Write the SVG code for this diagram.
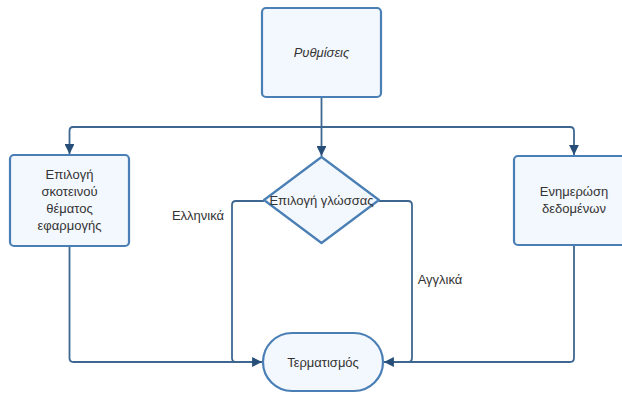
<svg xmlns="http://www.w3.org/2000/svg" width="622" height="393" viewBox="0 0 622 393">
<style>
.node{fill:#f3f8fe;stroke:#4a7fb5;stroke-width:2.2}
.t{font-family:"Liberation Sans",Arial,sans-serif;font-size:13px;fill:#333;text-anchor:middle}
.c{fill:none;stroke:#3d6790;stroke-width:1.8;stroke-linejoin:round}
</style>
<defs>
<marker id="a" viewBox="0 0 10 10" refX="10" refY="5" markerWidth="5.5" markerHeight="5.5" markerUnits="strokeWidth" orient="auto">
<path d="M0,0 L10,5 L0,10 Z" fill="#264e78"/>
</marker>
</defs>
<rect width="622" height="393" fill="#fff"/>
<g id="connectors">
<path class="c" d="M321.5,97 V127"/>
<path class="c" d="M321.5,127 H73 Q69.5,127 69.5,131 V154" marker-end="url(#a)"/>
<path class="c" d="M321.5,127 H570 Q574,127 574,131 V155" marker-end="url(#a)"/>
<path class="c" d="M321.5,127 V156" marker-end="url(#a)"/>
<path class="c" d="M69.5,246 V358 Q69.5,362 73.5,362 H262" marker-end="url(#a)"/>
<path class="c" d="M264,201 H236 Q232,201 232,205 V358 Q232,362 236,362"/>
<path class="c" d="M379,201 H408 Q412,201 412,205 V358 Q412,362 408,362"/>
<path class="c" d="M574,245 V358 Q574,362 570,362 H384" marker-end="url(#a)"/>
</g>
<g id="settings">
<rect class="node" x="262" y="8" width="119" height="89" rx="4"/>
<text class="t" x="321.5" y="57" font-style="italic">Ρυθμίσεις</text>
</g>
<g id="dark-theme">
<rect class="node" x="10" y="155" width="119" height="91" rx="4"/>
<text class="t" x="69.5" y="179">Επιλογή</text>
<text class="t" x="69.5" y="196">σκοτεινού</text>
<text class="t" x="69.5" y="213">θέματος</text>
<text class="t" x="69.5" y="230">εφαρμογής</text>
</g>
<g id="language">
<path class="node" d="M321.5,157 L379,200 L321.5,243 L264,200 Z" stroke-linejoin="round"/>
<text class="t" x="321.5" y="204.5">Επιλογή γλώσσας</text>
</g>
<g id="update-data">
<rect class="node" x="514" y="156" width="120" height="89" rx="4"/>
<text class="t" x="574" y="196">Ενημερώση</text>
<text class="t" x="574" y="213">δεδομένων</text>
</g>
<g id="end">
<rect class="node" x="263" y="333" width="120" height="58" rx="29"/>
<text class="t" x="323" y="366.5">Τερματισμός</text>
</g>
<g id="labels">
<text class="t" x="198" y="220">Ελληνικά</text>
<text class="t" x="440" y="284">Αγγλικά</text>
</g>
</svg>
